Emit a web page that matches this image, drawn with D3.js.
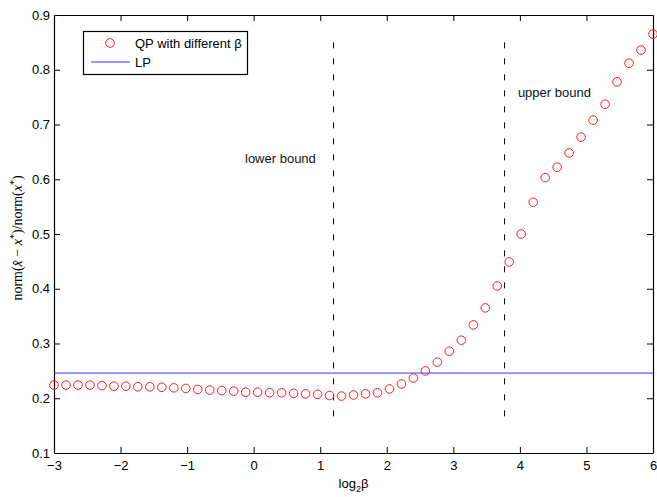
<!DOCTYPE html>
<html>
<head>
<meta charset="utf-8">
<script src="https://cdn.jsdelivr.net/npm/d3@7"></script>
<style>
  html, body { margin: 0; padding: 0; background: #fff; }
  svg { display: block; }
  text { font-family: "Liberation Sans", Arial, sans-serif; }
</style>
</head>
<body>
<svg id="chart" width="657" height="497"></svg>
<script>
// ---- data ----
const xValues = [-3.00, -2.82, -2.64, -2.46, -2.28, -2.10, -1.92, -1.74, -1.56, -1.38,
                 -1.20, -1.02, -0.84, -0.66, -0.48, -0.30, -0.12, 0.06, 0.24, 0.42,
                 0.60, 0.78, 0.96, 1.14, 1.32, 1.50, 1.68, 1.86, 2.04, 2.22,
                 2.40, 2.58, 2.76, 2.94, 3.12, 3.30, 3.48, 3.66, 3.84, 4.02,
                 4.20, 4.38, 4.56, 4.74, 4.92, 5.10, 5.28, 5.46, 5.64, 5.82, 6.00];
const qpValues = [0.224, 0.224, 0.224, 0.224, 0.223, 0.222, 0.222, 0.221, 0.221, 0.220,
                  0.219, 0.218, 0.216, 0.215, 0.214, 0.213, 0.211, 0.211, 0.210, 0.210,
                  0.209, 0.208, 0.207, 0.205, 0.204, 0.206, 0.208, 0.210, 0.217, 0.226,
                  0.237, 0.250, 0.266, 0.286, 0.306, 0.334, 0.365, 0.405, 0.449, 0.500,
                  0.558, 0.603, 0.622, 0.648, 0.677, 0.708, 0.737, 0.778, 0.812, 0.836, 0.865];
const lpValue = 0.246;
const boundNames = ["lower bound", "upper bound"];
const boundX = [1.2, 3.77];
const boundYRange = [0.165, 0.85];
const boundLabelPos = [[-0.13, 0.63], [3.97, 0.75]];  // [x, y] data coords for label start
const xTicks = [-3, -2, -1, 0, 1, 2, 3, 4, 5, 6];
const yTicks = [0.1, 0.2, 0.3, 0.4, 0.5, 0.6, 0.7, 0.8, 0.9];
const legendLabels = ["QP with different \u03B2", "LP"];

// ---- layout ----
const svg = d3.select("#chart");
const L = 54, R = 653, T = 15, B = 453;
const x = d3.scaleLinear().domain([-3, 6]).range([L, R]);
const y = d3.scaleLinear().domain([0.1, 0.9]).range([B, T]);
const FS = 13;

// axes
const axBottom = svg.append("g").attr("transform", `translate(0,${B})`)
  .call(d3.axisBottom(x).tickValues(xTicks).tickSize(-6).tickSizeOuter(0).tickPadding(8));
const axTop = svg.append("g").attr("transform", `translate(0,${T})`)
  .call(d3.axisTop(x).tickValues(xTicks).tickSize(-6).tickSizeOuter(0).tickFormat(""));
const axLeft = svg.append("g").attr("transform", `translate(${L},0)`)
  .call(d3.axisLeft(y).tickValues(yTicks).tickSize(-6).tickSizeOuter(0).tickPadding(4).tickFormat(d3.format(".1f")));
const axRight = svg.append("g").attr("transform", `translate(${R},0)`)
  .call(d3.axisRight(y).tickValues(yTicks).tickSize(-6).tickSizeOuter(0).tickFormat(""));
[axBottom, axTop, axLeft, axRight].forEach(g => {
  g.selectAll("path.domain").attr("stroke", "#000").attr("stroke-width", 1.2);
  g.selectAll(".tick line").attr("stroke", "#000").attr("stroke-width", 1);
  g.selectAll(".tick text").attr("fill", "#000").style("font-size", FS + "px")
    .style("font-family", "'Liberation Sans', Arial, sans-serif");
});
axTop.selectAll(".tick").filter(d => d === -3 || d === 6).select("line").remove();
axBottom.selectAll(".tick").filter(d => d === -3 || d === 6).select("line").remove();
axLeft.selectAll(".tick").filter(d => d === 0.1 || d === 0.9).select("line").remove();
axRight.selectAll(".tick").filter(d => d === 0.1 || d === 0.9).select("line").remove();

// LP line
svg.append("line")
  .attr("x1", x(-3)).attr("x2", x(6))
  .attr("y1", y(lpValue)).attr("y2", y(lpValue))
  .attr("stroke", "#3333ff").attr("stroke-width", 1);

// bound dashed lines
svg.selectAll("line.bound").data(boundX).enter().append("line")
  .attr("class", "bound")
  .attr("x1", d => x(d)).attr("x2", d => x(d))
  .attr("y1", y(boundYRange[1])).attr("y2", y(boundYRange[0]))
  .attr("stroke", "#000").attr("stroke-width", 1)
  .attr("stroke-dasharray", "6,10");

// bound labels
svg.selectAll("text.blabel").data(boundNames).enter().append("text")
  .attr("class", "blabel")
  .attr("x", (d, i) => x(boundLabelPos[i][0]))
  .attr("y", (d, i) => y(boundLabelPos[i][1]))
  .attr("fill", "#111").style("font-size", FS + "px")
  .text(d => d);

// QP circles
svg.selectAll("circle.qp").data(qpValues).enter().append("circle")
  .attr("class", "qp")
  .attr("cx", (d, i) => x(xValues[i]))
  .attr("cy", d => y(d))
  .attr("r", 4.3)
  .attr("fill", "none").attr("stroke", "#ff1a1a").attr("stroke-width", 1);

// legend
const lg = svg.append("g");
lg.append("rect").attr("x", 83.5).attr("y", 31.5).attr("width", 164).attr("height", 43)
  .attr("fill", "#fff").attr("stroke", "#000").attr("stroke-width", 1.2);
lg.append("circle").attr("cx", 110).attr("cy", 43).attr("r", 4.3)
  .attr("fill", "none").attr("stroke", "#ff1a1a").attr("stroke-width", 1);
lg.append("line").attr("x1", 91).attr("x2", 130).attr("y1", 62).attr("y2", 62)
  .attr("stroke", "#3333ff").attr("stroke-width", 1);
lg.selectAll("text").data(legendLabels).enter().append("text")
  .attr("x", 135).attr("y", (d, i) => 47.5 + i * 19)
  .attr("fill", "#000").style("font-size", FS + "px")
  .text(d => d);

// x label
const xl = svg.append("text")
  .attr("x", (L + R) / 2).attr("y", 488).attr("text-anchor", "middle")
  .attr("fill", "#000").style("font-size", FS + "px");
xl.append("tspan").text("log");
xl.append("tspan").attr("dy", 4).style("font-size", "9px").text("2");
xl.append("tspan").attr("dy", -4).text("\u03B2");

// y label (LaTeX-like)
const yl = svg.append("text")
  .attr("transform", `translate(22,${(T + B) / 2 + 4}) rotate(-90)`)
  .attr("text-anchor", "middle")
  .attr("fill", "#000")
  .style("font-family", "'Liberation Serif', 'DejaVu Serif', serif")
  .style("font-size", "14px");
yl.append("tspan").text("norm(");
yl.append("tspan").style("font-style", "italic").text("x\u0302");
yl.append("tspan").text(" \u2212 ");
yl.append("tspan").style("font-style", "italic").text("x");
yl.append("tspan").attr("dy", -5).style("font-size", "10px").text("*");
yl.append("tspan").attr("dy", 5).text(")/norm(");
yl.append("tspan").style("font-style", "italic").text("x");
yl.append("tspan").attr("dy", -5).style("font-size", "10px").text("*");
yl.append("tspan").attr("dy", 5).text(")");
</script>
</body>
</html>
